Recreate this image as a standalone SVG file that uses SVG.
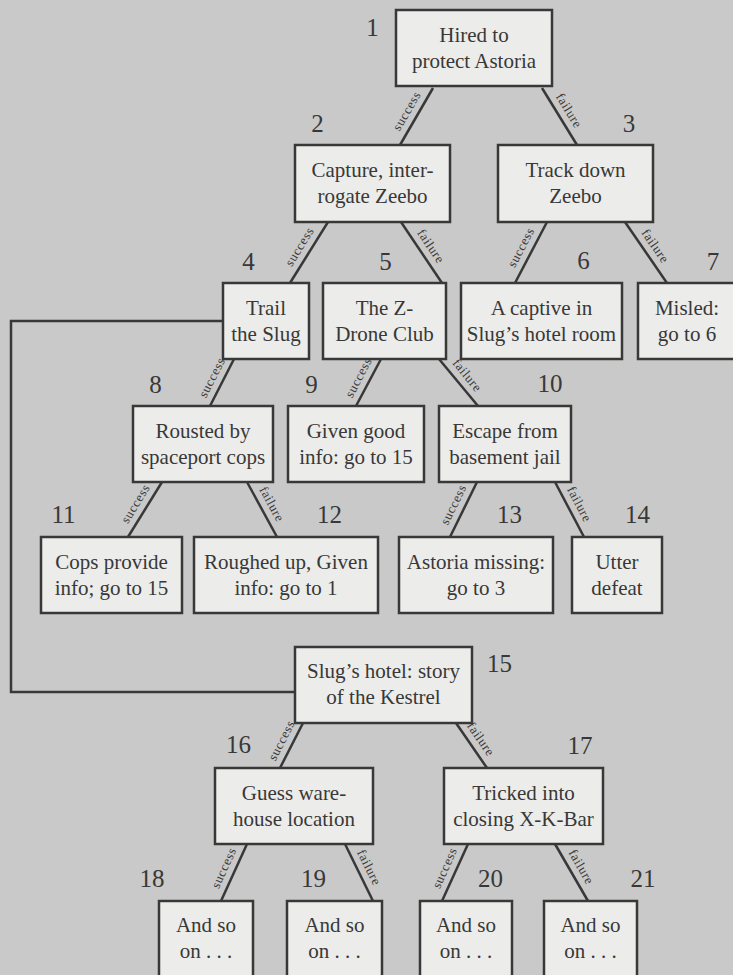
<svg xmlns="http://www.w3.org/2000/svg" width="733" height="975" viewBox="0 0 733 975">
<style>
.bg{fill:#c9c9c9}
.box{fill:#ececea;stroke:#383838;stroke-width:2.5}
.t{font-family:"Liberation Serif","DejaVu Serif",serif;font-size:21px;fill:#383838;text-anchor:middle}
.n{font-family:"Liberation Serif","DejaVu Serif",serif;font-size:25px;fill:#383838;text-anchor:middle}
.e{stroke:#383838;stroke-width:2.5;fill:none}
.l{font-family:"Liberation Serif","DejaVu Serif",serif;font-size:13px;letter-spacing:0.6px;fill:#383838;text-anchor:middle}
</style>
<rect class="bg" x="0" y="0" width="733" height="975"/>
<g id="connectors">
<line class="e" x1="433" y1="88" x2="400" y2="145"/>
<line class="e" x1="542" y1="88" x2="577" y2="145"/>
<line class="e" x1="328" y1="222" x2="290" y2="283"/>
<line class="e" x1="401" y1="222" x2="442" y2="283"/>
<line class="e" x1="547" y1="222" x2="515" y2="283"/>
<line class="e" x1="625" y1="222" x2="667" y2="283"/>
<line class="e" x1="234" y1="359" x2="210" y2="406"/>
<line class="e" x1="381" y1="359" x2="356" y2="406"/>
<line class="e" x1="439" y1="359" x2="478" y2="406"/>
<line class="e" x1="162" y1="482" x2="128" y2="537"/>
<line class="e" x1="247" y1="482" x2="277" y2="537"/>
<line class="e" x1="477" y1="482" x2="450" y2="537"/>
<line class="e" x1="555" y1="482" x2="584" y2="537"/>
<line class="e" x1="303" y1="723" x2="280" y2="768"/>
<line class="e" x1="456" y1="723" x2="487" y2="768"/>
<line class="e" x1="247" y1="844" x2="221" y2="901"/>
<line class="e" x1="345" y1="844" x2="373" y2="901"/>
<line class="e" x1="468" y1="844" x2="442" y2="901"/>
<line class="e" x1="555" y1="844" x2="588" y2="901"/>
<polyline class="e" points="223,321 11,321 11,692 295,692"/>
<g transform="translate(416.5,116.5) rotate(-59.9)"><text class="l" y="-7">success</text></g>
<g transform="translate(559.5,116.5) rotate(58.4)"><text class="l" y="-7">failure</text></g>
<g transform="translate(309,252.5) rotate(-58.1)"><text class="l" y="-7">success</text></g>
<g transform="translate(421.5,252.5) rotate(56.1)"><text class="l" y="-7">failure</text></g>
<g transform="translate(531,252.5) rotate(-62.3)"><text class="l" y="-7">success</text></g>
<g transform="translate(646,252.5) rotate(55.5)"><text class="l" y="-7">failure</text></g>
<g transform="translate(222,382.5) rotate(-62.9)"><text class="l" y="-7">success</text></g>
<g transform="translate(368.5,382.5) rotate(-62.5)"><text class="l" y="-7">success</text></g>
<g transform="translate(458.5,382.5) rotate(50.9)"><text class="l" y="-7">failure</text></g>
<g transform="translate(145,509.5) rotate(-58.3)"><text class="l" y="-7">success</text></g>
<g transform="translate(262,509.5) rotate(61.4)"><text class="l" y="-7">failure</text></g>
<g transform="translate(463.5,509.5) rotate(-63.9)"><text class="l" y="-7">success</text></g>
<g transform="translate(569.5,509.5) rotate(62.2)"><text class="l" y="-7">failure</text></g>
<g transform="translate(291.5,745.5) rotate(-63)"><text class="l" y="-7">success</text></g>
<g transform="translate(471.5,745.5) rotate(55.6)"><text class="l" y="-7">failure</text></g>
<g transform="translate(234,872.5) rotate(-65.5)"><text class="l" y="-7">success</text></g>
<g transform="translate(359,872.5) rotate(63.8)"><text class="l" y="-7">failure</text></g>
<g transform="translate(455,872.5) rotate(-65.9)"><text class="l" y="-7">success</text></g>
<g transform="translate(571.5,872.5) rotate(60.4)"><text class="l" y="-7">failure</text></g>
</g>
<g id="node1"><rect class="box" x="396" y="10" width="156" height="76"/><text class="t" x="474" y="42">Hired to</text><text class="t" x="474" y="68">protect Astoria</text><text class="n" x="372.5" y="36">1</text></g>
<g id="node2"><rect class="box" x="295" y="145" width="155" height="77"/><text class="t" x="372.5" y="177">Capture, inter-</text><text class="t" x="372.5" y="203">rogate Zeebo</text><text class="n" x="317.5" y="132">2</text></g>
<g id="node3"><rect class="box" x="498" y="145" width="155" height="77"/><text class="t" x="575.5" y="177">Track down</text><text class="t" x="575.5" y="203">Zeebo</text><text class="n" x="629" y="132">3</text></g>
<g id="node4"><rect class="box" x="223" y="283" width="86" height="76"/><text class="t" x="266" y="314.5">Trail</text><text class="t" x="266" y="340.5">the Slug</text><text class="n" x="248.5" y="270">4</text></g>
<g id="node5"><rect class="box" x="323" y="283" width="123" height="76"/><text class="t" x="384.5" y="314.5">The Z-</text><text class="t" x="384.5" y="340.5">Drone Club</text><text class="n" x="385.5" y="270">5</text></g>
<g id="node6"><rect class="box" x="461" y="283" width="161" height="76"/><text class="t" x="541.5" y="314.5">A captive in</text><text class="t" x="541.5" y="340.5">Slug’s hotel room</text><text class="n" x="583.5" y="269">6</text></g>
<g id="node7"><rect class="box" x="638" y="283" width="99" height="76"/><text class="t" x="687" y="314.5">Misled:</text><text class="t" x="687" y="340.5">go to 6</text><text class="n" x="713" y="270">7</text></g>
<g id="node8"><rect class="box" x="133" y="406" width="140" height="76"/><text class="t" x="203" y="437.5">Rousted by</text><text class="t" x="203" y="463.5">spaceport cops</text><text class="n" x="155.5" y="393">8</text></g>
<g id="node9"><rect class="box" x="288" y="406" width="136" height="76"/><text class="t" x="356" y="437.5">Given good</text><text class="t" x="356" y="463.5">info: go to 15</text><text class="n" x="311.5" y="393">9</text></g>
<g id="node10"><rect class="box" x="439" y="406" width="132" height="76"/><text class="t" x="505" y="437.5">Escape from</text><text class="t" x="505" y="463.5">basement jail</text><text class="n" x="550" y="392">10</text></g>
<g id="node11"><rect class="box" x="41" y="537" width="141" height="76"/><text class="t" x="111.5" y="568.5">Cops provide</text><text class="t" x="111.5" y="594.5">info; go to 15</text><text class="n" x="63.5" y="523">11</text></g>
<g id="node12"><rect class="box" x="194" y="537" width="184" height="76"/><text class="t" x="286" y="568.5">Roughed up, Given</text><text class="t" x="286" y="594.5">info: go to 1</text><text class="n" x="329.5" y="523">12</text></g>
<g id="node13"><rect class="box" x="399" y="537" width="154" height="76"/><text class="t" x="476" y="568.5">Astoria missing:</text><text class="t" x="476" y="594.5">go to 3</text><text class="n" x="509.5" y="523">13</text></g>
<g id="node14"><rect class="box" x="572" y="537" width="90" height="76"/><text class="t" x="617" y="568.5">Utter</text><text class="t" x="617" y="594.5">defeat</text><text class="n" x="637.5" y="523">14</text></g>
<g id="node15"><rect class="box" x="295" y="647" width="177" height="76"/><text class="t" x="383.5" y="678">Slug’s hotel: story</text><text class="t" x="383.5" y="704">of the Kestrel</text><text class="n" x="499.5" y="672">15</text></g>
<g id="node16"><rect class="box" x="215" y="768" width="158" height="76"/><text class="t" x="294" y="799.5">Guess ware-</text><text class="t" x="294" y="825.5">house location</text><text class="n" x="238.5" y="753">16</text></g>
<g id="node17"><rect class="box" x="444" y="768" width="159" height="76"/><text class="t" x="523.5" y="799.5">Tricked into</text><text class="t" x="523.5" y="825.5">closing X-K-Bar</text><text class="n" x="580" y="754">17</text></g>
<g id="node18"><rect class="box" x="159" y="901" width="94" height="80"/><text class="t" x="206" y="931.5">And so</text><text class="t" x="206" y="957.5">on . . .</text><text class="n" x="152" y="887">18</text></g>
<g id="node19"><rect class="box" x="287" y="901" width="95" height="80"/><text class="t" x="334.5" y="931.5">And so</text><text class="t" x="334.5" y="957.5">on . . .</text><text class="n" x="313.5" y="887">19</text></g>
<g id="node20"><rect class="box" x="420" y="901" width="92" height="80"/><text class="t" x="466" y="931.5">And so</text><text class="t" x="466" y="957.5">on . . .</text><text class="n" x="490.5" y="887">20</text></g>
<g id="node21"><rect class="box" x="544" y="901" width="93" height="80"/><text class="t" x="590.5" y="931.5">And so</text><text class="t" x="590.5" y="957.5">on . . .</text><text class="n" x="643" y="887">21</text></g>
</svg>
